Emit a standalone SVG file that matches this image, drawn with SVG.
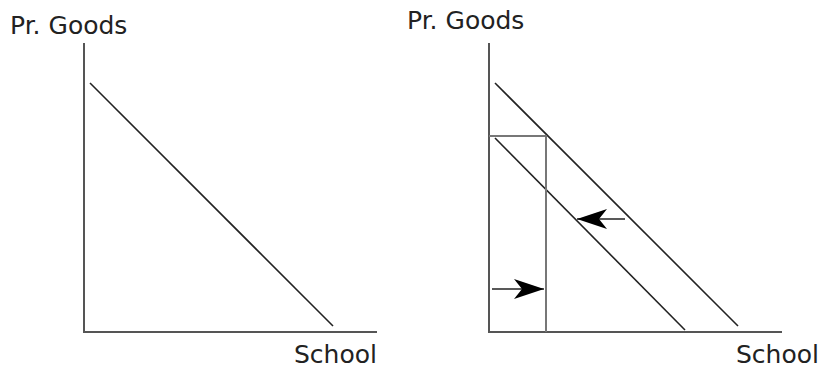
<svg xmlns="http://www.w3.org/2000/svg" width="822" height="368" viewBox="0 0 822 368">
<style>
.axis{stroke:#555;stroke-width:2;fill:none}
.line{stroke:#222;stroke-width:1.6;fill:none}
.box{stroke:#777;stroke-width:2;fill:none}
.lbl{font-family:"DejaVu Sans",sans-serif;font-size:25px;fill:#222}
</style>
<defs>
<marker id="ah" viewBox="0 0 30 20" refX="30" refY="10" markerWidth="30" markerHeight="20" markerUnits="userSpaceOnUse" orient="auto">
<path d="M0,0 L30,10 L0,20 L8,10 Z" fill="#000"/>
</marker>
</defs>
<g id="chart-left">
<path class="axis" d="M84,43 V332 H377"/>
<line class="line" x1="90" y1="83" x2="333" y2="326"/>
<text class="lbl" x="10" y="34">Pr. Goods</text>
<text class="lbl" x="294" y="363">School</text>
</g>
<g id="chart-right">
<path class="axis" d="M489,43 V332 H782"/>
<line class="line" x1="495" y1="83" x2="738" y2="326"/>
<line class="line" x1="495" y1="138" x2="685" y2="330"/>
<path class="box" d="M489,136 H546 V332"/>
<text class="lbl" x="407" y="29">Pr. Goods</text>
<text class="lbl" x="736" y="363">School</text>
</g>
<g id="connectors">
<line class="line" x1="492" y1="289" x2="544" y2="289" marker-end="url(#ah)"/>
<line class="line" x1="625" y1="219" x2="577" y2="219" marker-end="url(#ah)"/>
</g>
</svg>
